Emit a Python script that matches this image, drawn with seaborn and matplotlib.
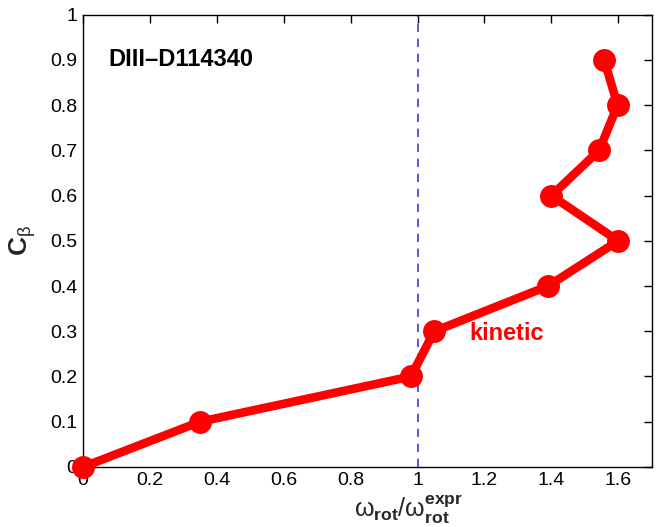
import matplotlib
matplotlib.use("Agg")
import matplotlib.pyplot as plt
import seaborn as sns
import pandas as pd

# Normalized rotation vs. beta coefficient (DIII-D shot 114340, kinetic model)
c_beta = [0.0, 0.1, 0.2, 0.3, 0.4, 0.5, 0.6, 0.7, 0.8, 0.9]
omega_ratio = [0.0, 0.35, 0.98, 1.05, 1.39, 1.60, 1.40, 1.543, 1.598, 1.558]

x_ticks = [0, 0.2, 0.4, 0.6, 0.8, 1.0, 1.2, 1.4, 1.6]
x_tick_labels = ["0", "0.2", "0.4", "0.6", "0.8", "1", "1.2", "1.4", "1.6"]
y_ticks = [0, 0.1, 0.2, 0.3, 0.4, 0.5, 0.6, 0.7, 0.8, 0.9, 1.0]
y_tick_labels = ["0", "0.1", "0.2", "0.3", "0.4", "0.5", "0.6", "0.7", "0.8", "0.9", "1"]

sns.set_style("white")
plt.rcParams["font.family"] = ["Liberation Sans", "DejaVu Sans"]
plt.rcParams["mathtext.fontset"] = "custom"
plt.rcParams["mathtext.rm"] = "Liberation Sans"
plt.rcParams["mathtext.it"] = "Liberation Sans:italic"
plt.rcParams["mathtext.bf"] = "Liberation Sans:bold"

df = pd.DataFrame({"omega": omega_ratio, "cbeta": c_beta})

fig = plt.figure(figsize=(6.65, 5.27), dpi=100)
ax = fig.add_axes([0.125, 0.114, 0.855, 0.858])

ax.axvline(1.0, color="#3a3ae0", linestyle=(0, (5, 4)), linewidth=1.2, zorder=1)

sns.lineplot(data=df, x="omega", y="cbeta", sort=False, estimator=None,
             color="#ff0000", linewidth=6.2, marker="o", markersize=16.5,
             markeredgewidth=0, ax=ax, zorder=3, clip_on=False)

ax.set_xlim(0, 1.7)
ax.set_ylim(0, 1.0)
ax.set_xticks(x_ticks)
ax.set_xticklabels(x_tick_labels)
ax.set_yticks(y_ticks)
ax.set_yticklabels(y_tick_labels)
ax.tick_params(direction="in", length=6, width=1, top=True, right=True,
               labelsize=14, colors="black", pad=4)

for s in ax.spines.values():
    s.set_color("black")
    s.set_linewidth(1.0)

ax.set_xlabel(r"$\mathrm{\omega}_{\mathbf{rot}}/\mathrm{\omega}_{\mathbf{rot}}^{\mathbf{expr}}$",
              fontsize=18)
ax.xaxis.set_label_coords(0.573, -0.06)
ax.set_ylabel(r"$\mathbf{C}_{\mathrm{\beta}}$", fontsize=19)
ax.yaxis.set_label_coords(-0.08, 0.5)

ax.text(0.075, 0.9, "DIII\u2013D114340", fontsize=17, fontweight="bold",
        color="black", va="center", ha="left")
ax.text(1.155, 0.296, "kinetic", fontsize=17, fontweight="bold",
        color="#ff0000", va="center", ha="left")

fig.savefig("out.png", dpi=100)
